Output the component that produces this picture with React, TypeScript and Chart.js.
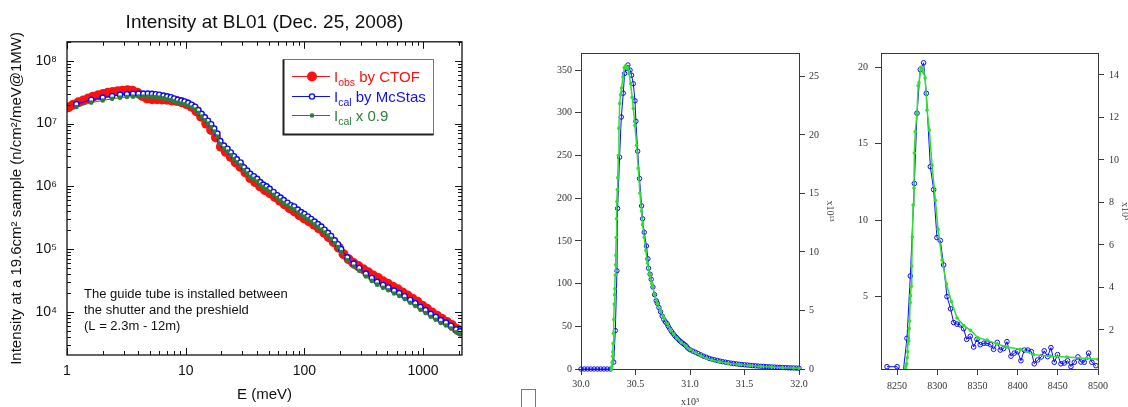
import React, { useEffect, useRef } from "react";
import { Chart, registerables } from "chart.js";
Chart.register(...registerables);

// ---------------- Panel 1 data (log-log spectrum) ----------------
const obsE = [1.03, 1.13, 1.25, 1.37, 1.51, 1.66, 1.83, 2.01, 2.21, 2.43, 2.68, 2.94, 3.24, 3.56, 3.92, 4.31, 4.74, 5.22, 5.74, 6.31, 6.94, 7.64, 8.4, 9.24, 10.2, 11.2, 12.3, 13.5, 14.9, 16.4, 18.0, 19.8, 21.8, 24.0, 26.4, 29.0, 31.9, 35.1, 38.6, 42.5, 46.7, 51.4, 56.5, 62.2, 68.4, 75.2, 82.8, 91.0, 100, 110, 121, 133, 147, 161, 177, 195, 214, 236, 259, 285, 314, 345, 380, 418, 459, 505, 556, 612, 673, 740, 814, 895, 985, 1080, 1190, 1310, 1440, 1590, 1750, 1920, 2050];
const obsI = [1.82e7, 2.0e7, 2.19e7, 2.34e7, 2.51e7, 2.69e7, 2.82e7, 2.95e7, 3.09e7, 3.2e7, 3.27e7, 3.35e7, 3.39e7, 3.35e7, 3.09e7, 2.75e7, 2.51e7, 2.45e7, 2.45e7, 2.43e7, 2.4e7, 2.34e7, 2.29e7, 2.19e7, 2.04e7, 1.86e7, 1.58e7, 1.29e7, 1.0e7, 7.94e6, 6.03e6, 4.27e6, 3.55e6, 2.95e6, 2.4e6, 2.04e6, 1.66e6, 1.35e6, 1.17e6, 1.0e6, 8.71e5, 7.76e5, 6.76e5, 5.89e5, 5.13e5, 4.47e5, 3.98e5, 3.47e5, 3.09e5, 2.75e5, 2.45e5, 2.14e5, 1.82e5, 1.55e5, 1.29e5, 1.05e5, 8.32e4, 6.92e4, 6.03e4, 5.37e4, 4.79e4, 4.27e4, 3.8e4, 3.47e4, 3.09e4, 2.82e4, 2.51e4, 2.29e4, 2.04e4, 1.82e4, 1.62e4, 1.45e4, 1.26e4, 1.12e4, 9.77e3, 8.71e3, 7.76e3, 6.92e3, 6.17e3, 5.37e3, 4.9e3];

const calE = [1.2, 1.6, 2.0, 2.4, 2.8, 3.2, 3.6, 4.0, 4.4, 4.8, 5.2, 5.6, 6.0, 6.5, 7.0, 7.5, 8.0, 8.6, 9.2, 9.8, 10.5, 11.2, 12.0, 12.8, 13.6, 14.5, 15.4, 16.4, 17.4, 18.5, 19.6, 21, 22.5, 24, 25.5, 27, 29, 31, 33, 35, 37.5, 40, 42.5, 45, 48, 51, 55, 59, 63, 67, 72, 77, 82, 88, 94, 100, 107, 114, 122, 130, 139, 148, 158, 168, 180, 192, 204, 230, 260, 290, 330, 370, 410, 460, 510, 570, 630, 700, 780, 860, 950, 1050, 1160, 1280, 1410, 1560, 1720, 1900, 2050];
const calI = [2.04e7, 2.4e7, 2.6e7, 2.75e7, 2.88e7, 2.95e7, 2.99e7, 3.0e7, 3.0e7, 3.0e7, 2.98e7, 2.94e7, 2.88e7, 2.8e7, 2.72e7, 2.63e7, 2.51e7, 2.4e7, 2.32e7, 2.25e7, 2.14e7, 2.0e7, 1.86e7, 1.64e7, 1.43e7, 1.26e7, 1.11e7, 9.77e6, 8.32e6, 6.92e6, 5.25e6, 4.47e6, 3.98e6, 3.47e6, 3.02e6, 2.69e6, 2.4e6, 2.0e6, 1.78e6, 1.58e6, 1.45e6, 1.32e6, 1.17e6, 1.07e6, 1.0e6, 9.12e5, 8.13e5, 7.24e5, 6.61e5, 6.03e5, 5.5e5, 5.01e5, 4.79e5, 4.27e5, 3.89e5, 3.63e5, 3.31e5, 3.02e5, 2.75e5, 2.51e5, 2.29e5, 2.04e5, 1.82e5, 1.62e5, 1.38e5, 1.2e5, 1.0e5, 7.41e4, 5.89e4, 5.01e4, 4.07e4, 3.47e4, 3.02e4, 2.69e4, 2.45e4, 2.19e4, 2.0e4, 1.78e4, 1.55e4, 1.38e4, 1.2e4, 1.07e4, 9.33e3, 8.32e3, 7.41e3, 6.76e3, 6.03e3, 5.25e3, 4.9e3];
const cal09I = [1.84e7, 2.16e7, 2.34e7, 2.48e7, 2.59e7, 2.66e7, 2.69e7, 2.7e7, 2.7e7, 2.7e7, 2.68e7, 2.65e7, 2.59e7, 2.52e7, 2.45e7, 2.37e7, 2.26e7, 2.16e7, 2.09e7, 2.03e7, 1.93e7, 1.8e7, 1.67e7, 1.48e7, 1.29e7, 1.13e7, 1.0e7, 8.79e6, 7.49e6, 6.23e6, 4.73e6, 4.02e6, 3.58e6, 3.12e6, 2.72e6, 2.42e6, 2.16e6, 1.8e6, 1.6e6, 1.42e6, 1.31e6, 1.19e6, 1.05e6, 9.63e5, 9.0e5, 8.21e5, 7.32e5, 6.52e5, 5.95e5, 5.43e5, 4.95e5, 4.51e5, 4.31e5, 3.84e5, 3.5e5, 3.27e5, 2.98e5, 2.72e5, 2.48e5, 2.26e5, 2.06e5, 1.84e5, 1.64e5, 1.46e5, 1.24e5, 1.08e5, 9.0e4, 6.67e4, 5.3e4, 4.51e4, 3.66e4, 3.12e4, 2.72e4, 2.42e4, 2.21e4, 1.97e4, 1.8e4, 1.6e4, 1.4e4, 1.24e4, 1.08e4, 9.63e3, 8.4e3, 7.49e3, 6.67e3, 6.08e3, 5.43e3, 4.73e3, 4.41e3];

const p1Title = "Intensity at BL01 (Dec. 25, 2008)";
const p1XLabel = "E (meV)";
const p1YLabel = "Intensity at a 19.6cm\u00B2 sample (n/cm\u00B2/meV@1MW)";
const p1Legend = [
  { main: "I", sub: "obs", rest: " by CTOF", color: "#ff1010" },
  { main: "I", sub: "cal", rest: " by McStas", color: "#1010ff" },
  { main: "I", sub: "cal", rest: " x 0.9", color: "#2d7d3a" },
];
const p1Note = [
  "The guide tube is installed between",
  "the shutter and the preshield",
  "(L = 2.3m - 12m)",
];

// ---------------- Panel 2 data (pulse shape, x in units of 10^3) ----------------
const p2BlueX = [30.0, 30.03, 30.06, 30.09, 30.12, 30.15, 30.18, 30.21, 30.24, 30.27, 30.3, 30.315, 30.33, 30.336, 30.354, 30.37, 30.388, 30.4, 30.415, 30.43, 30.45, 30.464, 30.48, 30.495, 30.504, 30.52, 30.537, 30.556, 30.565, 30.58, 30.6, 30.614, 30.62, 30.634, 30.644, 30.66, 30.675, 30.69, 30.7, 30.715, 30.73, 30.745, 30.76, 30.775, 30.79, 30.8, 30.815, 30.83, 30.845, 30.86, 30.875, 30.89, 30.905, 30.92, 30.935, 30.95, 30.965, 30.98, 31.0, 31.025, 31.05, 31.075, 31.1, 31.125, 31.15, 31.175, 31.2, 31.225, 31.25, 31.275, 31.3, 31.325, 31.35, 31.375, 31.4, 31.425, 31.45, 31.475, 31.5, 31.525, 31.55, 31.575, 31.6, 31.625, 31.65, 31.675, 31.7, 31.725, 31.75, 31.775, 31.8, 31.825, 31.85, 31.875, 31.9, 31.925, 31.95, 31.975, 32.0];
const p2BlueY = [0, 0, 0, 0, 0, 0, 0, 0, 0, 0, 8, 45, 115, 188, 248, 295, 323, 346, 352, 356, 350, 344, 334, 314, 290, 255, 223, 191, 176, 160, 144, 129, 118, 111, 105, 96, 87, 80, 77, 72, 67, 62, 58, 55, 53, 50, 47, 44, 41.5, 39, 37, 35, 33, 31.5, 30, 28.5, 27, 24.5, 22.5, 21, 19.5, 18, 16.5, 15, 13.8, 12.5, 11.5, 10.8, 10, 9.2, 8.6, 8, 7.4, 6.9, 6.4, 6, 5.6, 5.2, 4.9, 4.6, 4.3, 4, 3.7, 3.5, 3.2, 3, 2.8, 2.6, 2.4, 2.2, 2, 1.9, 1.7, 1.6, 1.4, 1.3, 1.2, 1.1, 1.0];
const p2GreenX = [30.28, 30.283, 30.286, 30.29, 30.292, 30.295, 30.298, 30.302, 30.305, 30.308, 30.311, 30.314, 30.317, 30.32, 30.323, 30.326, 30.33, 30.333, 30.337, 30.342, 30.348, 30.355, 30.363, 30.372, 30.385, 30.398, 30.41, 30.428, 30.44, 30.455, 30.47, 30.48, 30.495, 30.51, 30.525, 30.54, 30.555, 30.565, 30.58, 30.595, 30.61, 30.63, 30.65, 30.675, 30.7, 30.73, 30.76, 30.79, 30.82, 30.85, 30.88, 30.92, 30.96, 31.0, 31.05, 31.1, 31.15, 31.2, 31.27, 31.35, 31.45, 31.55, 31.65, 31.75, 31.85, 31.95, 32.0];
const p2GreenY = [0, 3, 8, 15, 20, 30, 42, 58, 76, 87, 94, 110, 122, 133, 154, 176, 196, 210, 224, 250, 282, 311, 321, 329, 342, 353, 355, 353, 346, 334, 318, 305, 285, 262, 235, 206, 185, 169, 154, 139, 124, 111, 100, 87, 77, 68, 60, 53, 46, 41, 36, 31, 27, 23, 19, 15.5, 12.5, 10.5, 8.5, 6.8, 5.2, 4, 3, 2.2, 1.6, 1.1, 0.9];
const p2XTicks = [30.0, 30.5, 31.0, 31.5, 32.0];
const p2LeftTicks = [0, 50, 100, 150, 200, 250, 300, 350];
const p2RightTicks = [0, 5, 10, 15, 20, 25];

// ---------------- Panel 3 data ----------------
const p3BlueX = [8237.5, 8250, 8257.5, 8262.3, 8266.5, 8271.5, 8274.8, 8278.9, 8283, 8286.4, 8291.4, 8295.5, 8299.6, 8303.8, 8307.9, 8312.1, 8316.6, 8320.4, 8324.5, 8328.7, 8332.8, 8336.6, 8341.1, 8345.3, 8349.4, 8353.5, 8358.1, 8361.8, 8366.4, 8370.1, 8374.7, 8378.4, 8382.6, 8386.7, 8391.7, 8395.8, 8400, 8404.1, 8408.3, 8412.8, 8417, 8420.7, 8424.9, 8429.4, 8433.1, 8437.3, 8441.4, 8445.6, 8449.7, 8453.9, 8458, 8462.2, 8466.3, 8470.5, 8475, 8478.8, 8482.9, 8488.3, 8492.4, 8497.4];
const p3BlueY = [0.41, 0.41, 0, 2.27, 6.35, 12.4, 17.0, 19.85, 20.3, 18.3, 13.5, 12.0, 8.86, 8.67, 7.07, 5.0, 4.2, 3.3, 3.2, 3.15, 2.9, 2.2, 2.4, 1.7, 2.2, 1.85, 1.95, 1.95, 1.85, 1.55, 2.0, 1.5, 1.6, 2.05, 1.1, 1.3, 1.4, 0.8, 1.5, 1.5, 1.4, 0.6, 0.85, 1.05, 1.45, 1.07, 1.66, 0.7, 1.2, 0.6, 0.65, 0.8, 0.42, 0.7, 1.05, 0.72, 0.7, 1.3, 0.7, 0.48];
const p3GreenX = [8260, 8261, 8262, 8262.5, 8263, 8263.5, 8264.5, 8265, 8265.5, 8266.3, 8266.8, 8267.5, 8268.3, 8269, 8270, 8271, 8271.5, 8272.7, 8274.8, 8276.2, 8277.2, 8279.5, 8281, 8282.5, 8285, 8287.3, 8290.2, 8293.5, 8297.7, 8301, 8306, 8311.4, 8317.6, 8324.6, 8332.9, 8341.2, 8350.7, 8361.9, 8374.3, 8386.7, 8403.3, 8419.9, 8440.6, 8461.3, 8486.2, 8500];
const p3GreenY = [0.26, 0.45, 0.6, 1.0, 1.4, 1.9, 2.1, 2.9, 3.4, 4.6, 5.05, 5.66, 7.0, 8.9, 11.0, 12.1, 14.4, 15.8, 17.0, 18.8, 19.0, 20.0, 19.9, 19.7, 19.3, 17.2, 15.9, 13.6, 11.3, 9.4, 7.4, 5.83, 4.67, 3.6, 3.1, 2.8, 2.3, 2.15, 1.9, 1.7, 1.55, 1.2, 1.1, 1.05, 0.95, 0.9];
const p3XTicks = [8250, 8300, 8350, 8400, 8450, 8500];
const p3LeftTicks = [5, 10, 15, 20];
const p3RightTicks = [2, 4, 6, 8, 10, 12, 14];

// ---------------- styling ----------------
const SANS = "'Liberation Sans', Arial, sans-serif";
const SERIF = "'Liberation Serif', 'Times New Roman', serif";
const RED = "#ff1010";
const BLUE = "#0a0aff";
const DKGREEN = "#2d7d3a";
const LIME = "#30e030";
const AX = "#3a3a3a";

const pts = (xs: number[], ys: number[]) => xs.map((x, i) => ({ x, y: ys[i] }));
const SUP = "\u2070\u00B9\u00B2\u00B3\u2074\u2075\u2076\u2077\u2078\u2079";
const sup = (n: number) => String(n).split("").map((c) => (c >= "0" && c <= "9" ? SUP[+c] : c)).join("");
const isPow10 = (v: number) => Math.abs(Math.log10(v) - Math.round(Math.log10(v))) < 1e-6;
const logTicks = (min: number, max: number) => {
  const out: any[] = [];
  for (let e = Math.floor(Math.log10(min)); e <= Math.ceil(Math.log10(max)); e++) {
    for (let m = 1; m <= 9; m++) {
      const v = m * Math.pow(10, e);
      if (v >= min * 0.9999 && v <= max * 1.0001) out.push({ value: v, major: m === 1 });
    }
  }
  return out;
};
const fixedTicks = (arr: number[]) => (s: any) => {
  s.ticks = arr.map((v) => ({ value: v }));
};

// Panel 1 decoration: inward ticks on all four sides, frame, legend, note
const p1Decor = {
  id: "p1Decor",
  afterDraw(chart: any) {
    const { ctx, chartArea: a, scales } = chart;
    const xs = scales.x;
    const ys = scales.y;
    ctx.save();
    ctx.strokeStyle = "#111";
    ctx.lineWidth = 1;
    ctx.beginPath();
    xs.ticks.forEach((t: any) => {
      const px = Math.round(xs.getPixelForValue(t.value)) + 0.5;
      if (px < a.left - 1 || px > a.right + 1) return;
      const len = isPow10(t.value) ? 7 : 4;
      ctx.moveTo(px, a.bottom);
      ctx.lineTo(px, a.bottom - len);
      ctx.moveTo(px, a.top);
      ctx.lineTo(px, a.top + len);
    });
    ys.ticks.forEach((t: any) => {
      const py = Math.round(ys.getPixelForValue(t.value)) + 0.5;
      if (py < a.top - 1 || py > a.bottom + 1) return;
      const len = isPow10(t.value) ? 7 : 4;
      ctx.moveTo(a.left, py);
      ctx.lineTo(a.left + len, py);
      ctx.moveTo(a.right, py);
      ctx.lineTo(a.right - len, py);
    });
    ctx.stroke();
    ctx.lineWidth = 1.3;
    ctx.strokeRect(a.left, a.top, a.right - a.left, a.bottom - a.top);

    // legend box
    const bx = 283.5, by = 59.5, bw = 150, bh = 75;
    ctx.fillStyle = "#fff";
    ctx.fillRect(bx, by, bw, bh);
    ctx.lineWidth = 1;
    ctx.strokeStyle = "#777";
    ctx.strokeRect(bx, by, bw, bh);
    ctx.strokeStyle = "#222";
    ctx.lineWidth = 2;
    ctx.beginPath();
    ctx.moveTo(bx, by);
    ctx.lineTo(bx, by + bh);
    ctx.lineTo(bx + bw, by + bh);
    ctx.stroke();

    const rowY = [76, 96, 115];
    const ds = chart.data.datasets;
    p1Legend.forEach((it, i) => {
      const y = rowY[i];
      const d = ds[i];
      ctx.strokeStyle = d.borderColor;
      ctx.lineWidth = 1;
      ctx.beginPath();
      ctx.moveTo(292, y + 0.5);
      ctx.lineTo(330, y + 0.5);
      ctx.stroke();
      ctx.beginPath();
      ctx.arc(312, y + 0.5, d.pointRadius, 0, Math.PI * 2);
      ctx.fillStyle = d.pointBackgroundColor;
      ctx.fill();
      if (d.pointBorderWidth > 0) {
        ctx.lineWidth = d.pointBorderWidth;
        ctx.strokeStyle = d.pointBorderColor;
        ctx.stroke();
      }
      ctx.fillStyle = it.color;
      ctx.textBaseline = "alphabetic";
      ctx.textAlign = "left";
      let x = 334;
      ctx.font = `15px ${SANS}`;
      ctx.fillText(it.main, x, y + 5.5);
      x += ctx.measureText(it.main).width;
      ctx.font = `10.5px ${SANS}`;
      ctx.fillText(it.sub, x, y + 9.5);
      x += ctx.measureText(it.sub).width;
      ctx.font = `15px ${SANS}`;
      ctx.fillText(it.rest, x, y + 5.5);
    });

    // note
    ctx.fillStyle = "#111";
    ctx.font = `13px ${SANS}`;
    p1Note.forEach((line, i) => {
      ctx.fillText(line, 84, 297.5 + i * 16);
    });
    ctx.restore();
  },
};

const topFrame = {
  id: "topFrame",
  afterDraw(chart: any) {
    const { ctx, chartArea: a } = chart;
    ctx.save();
    ctx.strokeStyle = AX;
    ctx.lineWidth = 1;
    ctx.beginPath();
    ctx.moveTo(a.left, Math.round(a.top) + 0.5);
    ctx.lineTo(a.right, Math.round(a.top) + 0.5);
    ctx.stroke();
    ctx.restore();
  },
};

function makeP1(): any {
  return {
    type: "line",
    data: {
      datasets: [
        { data: pts(obsE, obsI), borderColor: RED, backgroundColor: RED, borderWidth: 1, pointRadius: 5, pointBorderWidth: 0, pointBackgroundColor: RED, pointBorderColor: RED, order: 3 },
        { data: pts(calE, calI), borderColor: BLUE, backgroundColor: BLUE, borderWidth: 1, pointRadius: 2.6, pointBorderWidth: 1.4, pointBackgroundColor: "#ffffff", pointBorderColor: BLUE, order: 2 },
        { data: pts(calE, cal09I), borderColor: DKGREEN, backgroundColor: DKGREEN, borderWidth: 1, pointRadius: 2.3, pointBorderWidth: 0, pointBackgroundColor: DKGREEN, pointBorderColor: DKGREEN, order: 1 },
      ],
    },
    options: {
      responsive: false,
      animation: false,
      events: [],
      layout: { padding: { left: 0, right: 18, top: 0, bottom: 0 } },
      plugins: {
        legend: { display: false },
        tooltip: { enabled: false },
        title: { display: true, text: p1Title, fullSize: false, color: "#111", font: { family: SANS, size: 19, weight: "normal" }, padding: { top: 11, bottom: 8 } },
      },
      scales: {
        x: {
          type: "logarithmic", position: "bottom", min: 1, max: 2130,
          afterBuildTicks: (s: any) => { s.ticks = logTicks(1, 2130); },
          afterFit: (s: any) => { s.height = 52; },
          grid: { display: false, drawTicks: false }, border: { display: false },
          ticks: { autoSkip: false, maxRotation: 0, padding: 8, color: "#111", font: { family: SANS, size: 14 }, callback: (v: any) => (isPow10(v) ? String(Math.round(v)) : "") },
          title: { display: true, text: p1XLabel, color: "#111", font: { family: SANS, size: 15 }, padding: { top: 0, bottom: 3 } },
        },
        y: {
          type: "logarithmic", position: "left", min: 2060, max: 2.01e8,
          afterBuildTicks: (s: any) => { s.ticks = logTicks(2060, 2.01e8); },
          afterFit: (s: any) => { s.width = 67; },
          grid: { display: false, drawTicks: false }, border: { display: false },
          ticks: { autoSkip: false, padding: 10, color: "#111", font: { family: SANS, size: 14 }, callback: (v: any) => (isPow10(v) ? "10" + sup(Math.round(Math.log10(v))) : "") },
          title: { display: true, text: p1YLabel, color: "#111", font: { family: SANS, size: 15 }, padding: { top: 8, bottom: 0 } },
        },
      },
    },
    plugins: [p1Decor],
  };
}

const serifTick = { family: SERIF, size: 10 };
const axGrid = { display: true, drawOnChartArea: false, drawTicks: true, tickLength: 6, tickColor: AX, color: AX };

function makeP2(): any {
  return {
    type: "line",
    data: {
      datasets: [
        { data: pts(p2GreenX, p2GreenY), borderColor: LIME, backgroundColor: LIME, borderWidth: 1.5, pointRadius: 1.8, pointBorderWidth: 0, pointBackgroundColor: LIME, clip: 4, order: 1, yAxisID: "y" },
        { data: pts(p2BlueX, p2BlueY), borderColor: BLUE, backgroundColor: BLUE, borderWidth: 1, pointRadius: 2.2, pointBorderWidth: 1, pointBackgroundColor: "rgba(255,255,255,0)", pointBorderColor: BLUE, clip: 4, order: 2, yAxisID: "y" },
      ],
    },
    options: {
      responsive: false, animation: false, events: [],
      layout: { padding: { left: 0, right: 0, top: 53, bottom: 0 } },
      plugins: { legend: { display: false }, tooltip: { enabled: false }, title: { display: false } },
      scales: {
        x: {
          type: "linear", position: "bottom", min: 30, max: 32,
          afterBuildTicks: fixedTicks(p2XTicks),
          afterFit: (s: any) => { s.height = 38; },
          grid: axGrid, border: { display: true, color: AX, width: 1 },
          ticks: { autoSkip: false, maxRotation: 0, padding: 3, color: "#333", font: serifTick, callback: (v: any) => Number(v).toFixed(1) },
          title: { display: true, text: "x10\u00B3", color: "#333", font: { family: SERIF, size: 10, lineHeight: 1 }, padding: { top: 0, bottom: 0 } },
        },
        y: {
          type: "linear", position: "left", min: 0, max: 370,
          afterBuildTicks: fixedTicks(p2LeftTicks),
          afterFit: (s: any) => { s.width = 51; },
          grid: axGrid, border: { display: true, color: AX, width: 1 },
          ticks: { autoSkip: false, padding: 3, color: "#333", font: serifTick, callback: (v: any) => String(v) },
        },
        y2: {
          type: "linear", position: "right", min: 0, max: 27,
          afterBuildTicks: fixedTicks(p2RightTicks),
          afterFit: (s: any) => { s.width = 41; },
          grid: axGrid, border: { display: true, color: AX, width: 1 },
          ticks: { autoSkip: false, padding: 4, color: "#333", font: serifTick, callback: (v: any) => String(v) },
          title: { display: true, text: "x10\u00B9\u00B3", color: "#333", font: { family: SERIF, size: 10, lineHeight: 1 }, padding: { top: 5, bottom: 0 } },
        },
      },
    },
    plugins: [topFrame],
  };
}

function makeP3(): any {
  return {
    type: "line",
    data: {
      datasets: [
        { data: pts(p3GreenX, p3GreenY), borderColor: LIME, backgroundColor: LIME, borderWidth: 1.5, pointRadius: 1.8, pointBorderWidth: 0, pointBackgroundColor: LIME, order: 1, yAxisID: "y" },
        { data: pts(p3BlueX, p3BlueY), borderColor: BLUE, backgroundColor: BLUE, borderWidth: 1, pointRadius: 2.3, pointBorderWidth: 1, pointBackgroundColor: "rgba(255,255,255,0)", pointBorderColor: BLUE, order: 2, yAxisID: "y" },
      ],
    },
    options: {
      responsive: false, animation: false, events: [],
      layout: { padding: { left: 0, right: 0, top: 53, bottom: 0 } },
      plugins: { legend: { display: false }, tooltip: { enabled: false }, title: { display: false } },
      scales: {
        x: {
          type: "linear", position: "bottom", min: 8230, max: 8500,
          afterBuildTicks: fixedTicks(p3XTicks),
          afterFit: (s: any) => { s.height = 38; },
          grid: axGrid, border: { display: true, color: AX, width: 1 },
          ticks: { autoSkip: false, maxRotation: 0, padding: 5, color: "#333", font: serifTick, callback: (v: any) => String(v) },
        },
        y: {
          type: "linear", position: "left", min: 0.26, max: 20.94,
          afterBuildTicks: fixedTicks(p3LeftTicks),
          afterFit: (s: any) => { s.width = 41; },
          grid: axGrid, border: { display: true, color: AX, width: 1 },
          ticks: { autoSkip: false, padding: 7, color: "#333", font: serifTick, callback: (v: any) => String(v) },
        },
        y2: {
          type: "linear", position: "right", min: 0.165, max: 15.03,
          afterBuildTicks: fixedTicks(p3RightTicks),
          afterFit: (s: any) => { s.width = 42; },
          grid: axGrid, border: { display: true, color: AX, width: 1 },
          ticks: { autoSkip: false, padding: 5, color: "#333", font: serifTick, callback: (v: any) => String(v) },
          title: { display: true, text: "x10\u00B3", color: "#333", font: { family: SERIF, size: 10, lineHeight: 1 }, padding: { top: 10, bottom: 0 } },
        },
      },
    },
    plugins: [topFrame],
  };
}

function ChartBox({ make, left, width, height }: any) {
  const ref = useRef<HTMLCanvasElement>(null);
  useEffect(() => {
    const c = new Chart(ref.current as HTMLCanvasElement, make());
    return () => c.destroy();
  }, []);
  return (
    <canvas
      ref={ref}
      width={width}
      height={height}
      style={{ position: "absolute", left, top: 0, width, height }}
    />
  );
}

export default function App() {
  return (
    <>
      <style>{`body{margin:0;background:#fff}`}</style>
      <div style={{ position: "relative", width: 1128, height: 407, overflow: "hidden", background: "#fff" }}>
        <ChartBox make={makeP1} left={0} width={480} height={407} />
        <ChartBox make={makeP2} left={530} width={310} height={407} />
        <ChartBox make={makeP3} left={840} width={300} height={407} />
        <div style={{ position: "absolute", left: 521, top: 389, width: 15, height: 24, border: "1px solid #777", boxSizing: "border-box", background: "#fff" }} />
      </div>
    </>
  );
}
